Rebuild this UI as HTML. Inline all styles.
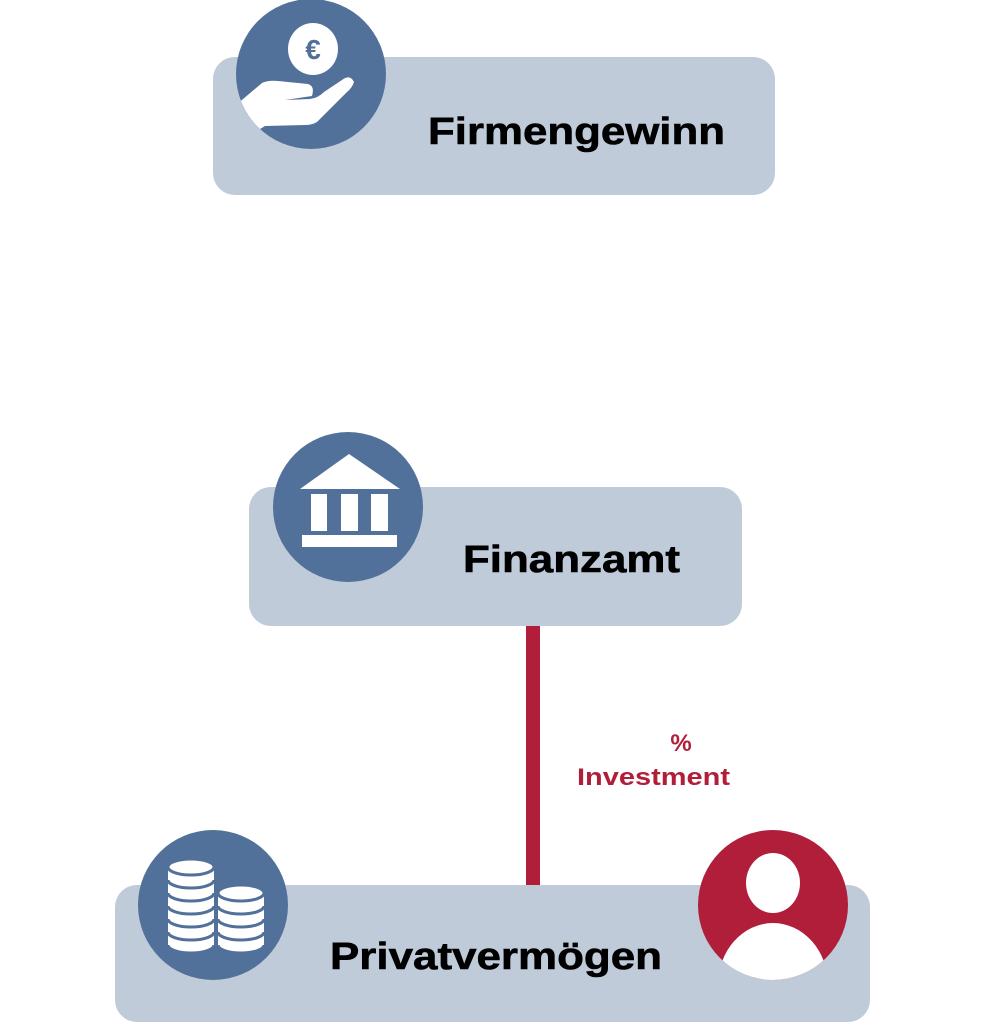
<!DOCTYPE html>
<html><head><meta charset="utf-8"><style>
html,body{margin:0;padding:0;background:#fff;width:992px;height:1024px;overflow:hidden}
text{font-family:"Liberation Sans",sans-serif;font-weight:bold}
</style></head><body>
<svg width="992" height="1024" viewBox="0 0 992 1024" xmlns="http://www.w3.org/2000/svg">
<defs>
<clipPath id="c1"><circle cx="311" cy="74" r="75"/></clipPath>
<clipPath id="c4"><circle cx="773" cy="905" r="75"/></clipPath>
</defs>
<!-- Box 1 -->
<rect x="213" y="57" width="562" height="138" rx="22" fill="#bfcbd9"/>
<circle cx="311" cy="74" r="75" fill="#52719a"/>
<g clip-path="url(#c1)" fill="#fff">
<ellipse cx="313" cy="49" rx="25" ry="26"/>
<text x="313" y="59" font-size="28" fill="#52719a" text-anchor="middle">€</text>
<path d="M230 110 L262 83 Q268 80 278 81 L308 84 Q315 86 312 96 L285 100 L310 99 Q318 98 324 92 L342 80 Q350 74 354 82 Q352 88 347 92 L317 122 Q312 125 305 125 L265 126 L250 135 Z"/>
</g>
<text x="428" y="144" font-size="38" textLength="297" lengthAdjust="spacingAndGlyphs" fill="#000" stroke="#000" stroke-width="0.6">Firmengewinn</text>
<!-- Box 2 -->
<rect x="249" y="487" width="493" height="139" rx="22" fill="#bfcbd9"/>
<circle cx="348" cy="507" r="75" fill="#52719a"/>
<g fill="#fff">
<polygon points="349,454 400,489 300,489"/>
<rect x="311" y="494" width="16" height="37"/>
<rect x="341" y="494" width="17" height="37"/>
<rect x="371" y="494" width="17" height="37"/>
<rect x="302" y="535" width="95" height="12"/>
</g>
<text x="463" y="572" font-size="38" textLength="217" lengthAdjust="spacingAndGlyphs" fill="#000" stroke="#000" stroke-width="0.6">Finanzamt</text>
<!-- connector -->
<rect x="526" y="626" width="14" height="260" fill="#b01e3a"/>
<text x="681" y="751" font-size="24" fill="#b01e3a" text-anchor="middle">%</text>
<text x="577" y="785" font-size="24" textLength="153" lengthAdjust="spacingAndGlyphs" fill="#b01e3a">Investment</text>
<!-- Box 3 -->
<rect x="115" y="885" width="755" height="137" rx="22" fill="#bfcbd9"/>
<circle cx="213" cy="905" r="75" fill="#52719a"/>
<g fill="#fff" stroke="#52719a" stroke-width="3">
<ellipse cx="191" cy="945" rx="23" ry="8"/>
<rect x="168" y="934" width="46" height="11" stroke="none"/>
<ellipse cx="191" cy="932" rx="23" ry="8"/>
<rect x="168" y="921" width="46" height="11" stroke="none"/>
<ellipse cx="191" cy="919" rx="23" ry="8"/>
<rect x="168" y="908" width="46" height="11" stroke="none"/>
<ellipse cx="191" cy="906" rx="23" ry="8"/>
<rect x="168" y="895" width="46" height="11" stroke="none"/>
<ellipse cx="191" cy="893" rx="23" ry="8"/>
<rect x="168" y="882" width="46" height="11" stroke="none"/>
<ellipse cx="191" cy="880" rx="23" ry="8"/>
<rect x="168" y="869" width="46" height="11" stroke="none"/>
<ellipse cx="191" cy="867" rx="23" ry="8"/>
<ellipse cx="241" cy="945" rx="23" ry="8"/>
<rect x="218" y="934" width="46" height="11" stroke="none"/>
<ellipse cx="241" cy="932" rx="23" ry="8"/>
<rect x="218" y="921" width="46" height="11" stroke="none"/>
<ellipse cx="241" cy="919" rx="23" ry="8"/>
<rect x="218" y="908" width="46" height="11" stroke="none"/>
<ellipse cx="241" cy="906" rx="23" ry="8"/>
<rect x="218" y="895" width="46" height="11" stroke="none"/>
<ellipse cx="241" cy="893" rx="23" ry="8"/>
</g>
<circle cx="773" cy="905" r="75" fill="#b01e3a"/>
<g clip-path="url(#c4)" fill="#fff">
<ellipse cx="773" cy="883" rx="27" ry="30"/>
<ellipse cx="773" cy="985" rx="55" ry="62"/>
</g>
<text x="330" y="969" font-size="38" textLength="332" lengthAdjust="spacingAndGlyphs" fill="#000" stroke="#000" stroke-width="0.6">Privatvermögen</text>
</svg>
</body></html>
